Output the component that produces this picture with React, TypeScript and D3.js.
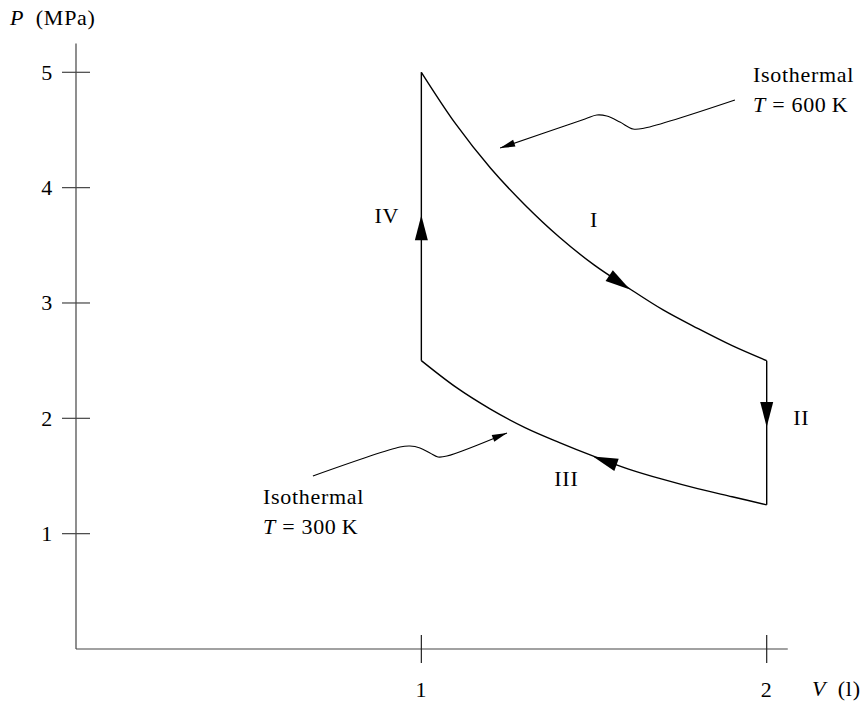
import React, { useEffect, useRef } from "react";
import * as d3 from "d3";

const width = 868;
const height = 708;

// volume (l) and pressure (MPa)
const xTicks = [1, 2];
const yTicks = [1, 2, 3, 4, 5];

// isotherm T = 600 K, process I, V from 1 to 2
const hotV = [1, 1.1, 1.2, 1.3, 1.4, 1.5, 1.6, 1.7, 1.8, 1.9, 2];
const hotP = [5, 4.55, 4.17, 3.85, 3.57, 3.33, 3.13, 2.94, 2.78, 2.63, 2.5];
// isotherm T = 300 K, process III, V from 2 back to 1
const coldV = [2, 1.9, 1.8, 1.7, 1.6, 1.5, 1.4, 1.3, 1.2, 1.1, 1];
const coldP = [1.25, 1.32, 1.39, 1.47, 1.56, 1.67, 1.79, 1.92, 2.08, 2.27, 2.5];

// arrow heads on the cycle: [tailV, tailP, tipV, tipP]
const cycleArrows = [
  [1.543, 3.24, 1.604, 3.117], // I
  [2, 2.14, 2, 1.925], // II
  [1.565, 1.597, 1.497, 1.67], // III
  [1, 3.54, 1, 3.76], // IV
];
const stageNames = ["I", "II", "III", "IV"];
const stagePos = [
  [1.5, 3.66],
  [2.1, 1.94],
  [1.42, 1.41],
  [0.9, 3.69],
];

// wavy leader lines (V, P), last point is the arrow tip
const leaderHotV = [1.908, 1.647, 1.613, 1.575, 1.537, 1.508, 1.474, 1.228];
const leaderHotP = [4.76, 4.517, 4.508, 4.569, 4.621, 4.63, 4.596, 4.343];
const leaderColdV = [0.686, 0.938, 0.967, 0.996, 1.025, 1.048, 1.074, 1.248];
const leaderColdP = [1.5, 1.751, 1.76, 1.743, 1.699, 1.665, 1.673, 1.873];

const FONT = "'Liberation Serif', 'DejaVu Serif', serif";

const App = () => {
  const ref = useRef<SVGSVGElement>(null);

  useEffect(() => {
    const svg = d3.select(ref.current);
    svg.selectAll("*").remove();

    const x = d3.scaleLinear().domain([0, 2]).range([76, 766.7]);
    const y = d3.scaleLinear().domain([0, 5]).range([649, 72.3]);

    const g = svg
      .append("g")
      .attr("font-family", FONT)
      .attr("font-size", 22)
      .attr("letter-spacing", 0.7);

    // axes
    g.append("line")
      .attr("x1", x(0)).attr("y1", y(0))
      .attr("x2", x(0)).attr("y2", y(5.25))
      .attr("stroke", "#444").attr("stroke-width", 1.2);
    g.append("line")
      .attr("x1", x(0)).attr("y1", y(0))
      .attr("x2", x(2.061)).attr("y2", y(0))
      .attr("stroke", "#444").attr("stroke-width", 1.2);

    g.selectAll(".ytick")
      .data(yTicks)
      .enter()
      .append("line")
      .attr("x1", x(0) - 14).attr("x2", x(0) + 14)
      .attr("y1", d => y(d)).attr("y2", d => y(d))
      .attr("stroke", "#444").attr("stroke-width", 1.2);
    g.selectAll(".ylab")
      .data(yTicks)
      .enter()
      .append("text")
      .attr("x", 53)
      .attr("y", d => y(d) + 7.5)
      .attr("text-anchor", "end")
      .text(d => d);

    g.selectAll(".xtick")
      .data(xTicks)
      .enter()
      .append("line")
      .attr("x1", d => x(d)).attr("x2", d => x(d))
      .attr("y1", y(0) - 14).attr("y2", y(0) + 14)
      .attr("stroke", "#222").attr("stroke-width", 1.2);
    g.selectAll(".xlab")
      .data(xTicks)
      .enter()
      .append("text")
      .attr("x", d => x(d))
      .attr("y", 697)
      .attr("text-anchor", "middle")
      .text(d => d);

    const py = g.append("text").attr("x", 10).attr("y", 25);
    py.append("tspan").attr("font-style", "italic").text("P");
    py.append("tspan").text("\u2002(MPa)");

    const vx = g.append("text").attr("x", 812).attr("y", 696);
    vx.append("tspan").attr("font-style", "italic").text("V");
    vx.append("tspan").text("\u2002(l)");

    // cycle
    const line = d3.line<[number, number]>().x(d => x(d[0])).y(d => y(d[1]));
    const smooth = d3
      .line<[number, number]>()
      .x(d => x(d[0]))
      .y(d => y(d[1]))
      .curve(d3.curveCatmullRom);

    const hot = hotV.map((v, i) => [v, hotP[i]] as [number, number]);
    const cold = coldV.map((v, i) => [v, coldP[i]] as [number, number]);

    g.append("path").attr("d", smooth(hot)).attr("fill", "none").attr("stroke", "#000").attr("stroke-width", 1.4);
    g.append("path").attr("d", smooth(cold)).attr("fill", "none").attr("stroke", "#000").attr("stroke-width", 1.4);
    g.append("path")
      .attr("d", line([[2, 2.5], [2, 1.25]]))
      .attr("fill", "none").attr("stroke", "#000").attr("stroke-width", 1.4);
    g.append("path")
      .attr("d", line([[1, 2.5], [1, 5]]))
      .attr("fill", "none").attr("stroke", "#000").attr("stroke-width", 1.4);

    const head = (x0: number, y0: number, x1: number, y1: number, len: number, half: number) => {
      const a = Math.atan2(y1 - y0, x1 - x0);
      const bx = x1 - len * Math.cos(a);
      const by = y1 - len * Math.sin(a);
      const nx = -Math.sin(a) * half;
      const ny = Math.cos(a) * half;
      return `M${x1},${y1}L${bx + nx},${by + ny}L${bx - nx},${by - ny}Z`;
    };

    g.selectAll(".cyc")
      .data(cycleArrows)
      .enter()
      .append("path")
      .attr("d", d => head(x(d[0]), y(d[1]), x(d[2]), y(d[3]), 25, 6.5))
      .attr("fill", "#000");

    g.selectAll(".stage")
      .data(stageNames)
      .enter()
      .append("text")
      .attr("x", (d, i) => x(stagePos[i][0]))
      .attr("y", (d, i) => y(stagePos[i][1]))
      .attr("text-anchor", "middle")
      .text(d => d);

    // leaders
    const leaders = [
      leaderHotV.map((v, i) => [v, leaderHotP[i]] as [number, number]),
      leaderColdV.map((v, i) => [v, leaderColdP[i]] as [number, number]),
    ];
    leaders.forEach(pts => {
      g.append("path")
        .attr("d", smooth(pts))
        .attr("fill", "none").attr("stroke", "#000").attr("stroke-width", 1.1);
      const n = pts.length;
      g.append("path")
        .attr("d", head(x(pts[n - 2][0]), y(pts[n - 2][1]), x(pts[n - 1][0]), y(pts[n - 1][1]), 15, 3.6))
        .attr("fill", "#000");
    });

    // labels
    const note = (lx: number, ly: number, t: string) => {
      g.append("text").attr("x", lx).attr("y", ly).text("Isothermal");
      const tt = g.append("text").attr("x", lx).attr("y", ly + 30);
      tt.append("tspan").attr("font-style", "italic").text("T");
      tt.append("tspan").text(`\u00a0=\u00a0${t}\u2009K`);
    };
    note(753, 82, "600");
    note(263, 504, "300");
  }, []);

  return (
    <svg
      ref={ref}
      width={width}
      height={height}
      style={{ position: "absolute", left: 0, top: 0, background: "#fff" }}
    />
  );
};

export default App;
